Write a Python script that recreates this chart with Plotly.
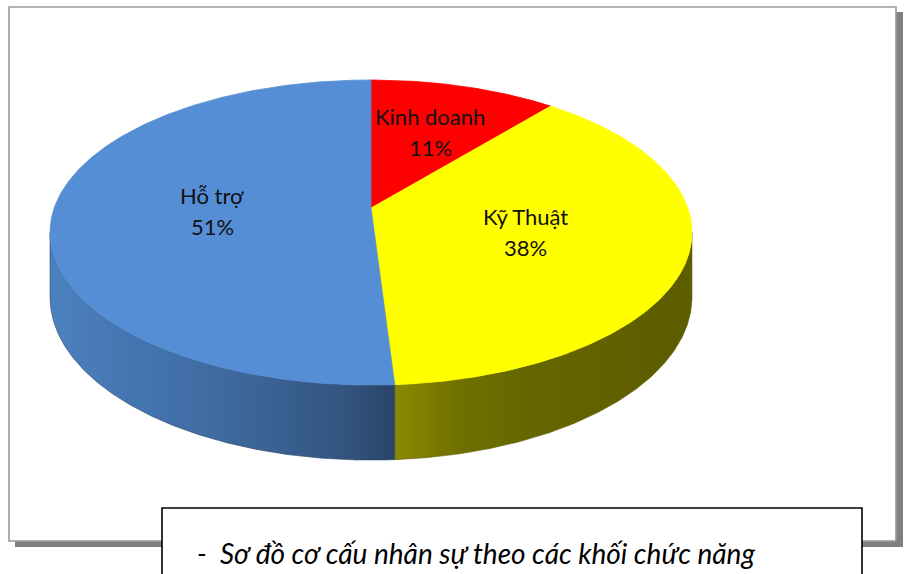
import numpy as np
import plotly.graph_objects as go

# ---- data ----
categories = ["Kinh doanh", "Kỹ Thuật", "Hỗ trợ"]
values = [11, 38, 51]
top_colors = ["#FF0000", "#FFFF00", "#558ED5"]
side_scales = [
    [[0, "#a00000"], [1, "#700000"]],
    [[0, "#8a8a00"], [0.22, "#707000"], [0.45, "#666600"], [1, "#5c5c00"]],
    [[0, "#4b80bf"], [0.5, "#3f6aa0"], [0.85, "#33557f"], [1, "#2a4468"]],
]
label_radius = [0.6, 0.5, 0.5]
caption = "-  Sơ đồ cơ cấu nhân sự theo các khối chức năng"

# ---- 3D pie projection model (screen pixels) ----
CX, CY = 371.0, 208.0   # projected centre of the top face
A, B = 316.8, 148.6     # horizontal / vertical radii factors
K = 0.1607              # perspective factor
H = 63.0                # thickness of the pie


def proj(theta_deg, r=1.0, dz=0.0):
    t = np.radians(theta_deg)
    u = r * np.sin(t)
    v = r * np.cos(t)
    w = 1 + K * v
    return CX + A * u / w, CY - B * v / w + H * dz / w


total = float(sum(values))
bounds = np.concatenate([[0], np.cumsum(values)]) / total * 360.0
vis_lo = np.degrees(np.arccos(-K))
vis_hi = 360.0 - vis_lo

fig = go.Figure()

# side faces (front, visible part)
for i, (a, b) in enumerate(zip(bounds[:-1], bounds[1:])):
    lo, hi = max(a, vis_lo), min(b, vis_hi)
    if hi <= lo:
        continue
    th = np.linspace(lo, hi, 200)
    xt, yt = proj(th)
    xb, yb = proj(th[::-1], dz=1.0)
    xs = np.concatenate([xt, xb, xt[:1]])
    ys = np.concatenate([yt, yb, yt[:1]])
    fig.add_trace(go.Scatter(
        x=xs, y=ys, mode="lines", fill="toself",
        line=dict(width=0.6, color=side_scales[i][-1][1]),
        fillgradient=dict(type="horizontal", colorscale=side_scales[i],
                          start=float(xs.min()), stop=float(xs.max())),
        hoverinfo="skip", showlegend=False))

# top faces
for i, (a, b) in enumerate(zip(bounds[:-1], bounds[1:])):
    th = np.linspace(a, b, 300)
    xa, ya = proj(th)
    xs = np.concatenate([[CX], xa, [CX]])
    ys = np.concatenate([[CY], ya, [CY]])
    fig.add_trace(go.Scatter(
        x=xs, y=ys, mode="lines", fill="toself",
        fillcolor=top_colors[i], line=dict(width=0.8, color=top_colors[i]),
        hoverinfo="skip", showlegend=False, name=categories[i]))

# data labels
annotations = []
for i, (a, b) in enumerate(zip(bounds[:-1], bounds[1:])):
    lx, ly = proj((a + b) / 2, r=label_radius[i])
    pct = f"{values[i] / total * 100:.0f}%"
    for txt, shift in ((categories[i], 15), (pct, -16)):
        annotations.append(dict(
            x=float(lx), y=float(ly), text=txt, showarrow=False,
            xanchor="center", yanchor="middle", yshift=shift,
            font=dict(family="Lato", size=22, color="#111111")))

annotations.append(dict(
    x=195, y=553, text=caption, showarrow=False,
    xanchor="left", yanchor="middle",
    font=dict(family="Lato", size=28, color="#000000", style="italic")))

shapes = [
    # frame shadow
    dict(type="rect", x0=15, x1=903, y0=12, y1=547, layer="below",
         fillcolor="#808080", line=dict(width=0)),
    # chart frame
    dict(type="rect", x0=9, x1=896, y0=7, y1=541, layer="below",
         fillcolor="#ffffff", line=dict(color="#9a9a9a", width=1.6)),
    # caption box
    dict(type="rect", x0=162, x1=862, y0=508, y1=590, layer="below",
         fillcolor="#ffffff", line=dict(color="#000000", width=1.6)),
]

fig.update_layout(
    width=906, height=574,
    margin=dict(l=0, r=0, t=0, b=0),
    paper_bgcolor="#ffffff", plot_bgcolor="rgba(0,0,0,0)",
    xaxis=dict(range=[0, 906], visible=False, fixedrange=True),
    yaxis=dict(range=[574, 0], visible=False, fixedrange=True),
    shapes=shapes, annotations=annotations,
    showlegend=False,
)

fig.write_html(
    "out.html",
    config={"displayModeBar": False},
    post_script="document.body.style.margin='0';document.body.style.overflow='hidden';",
)
